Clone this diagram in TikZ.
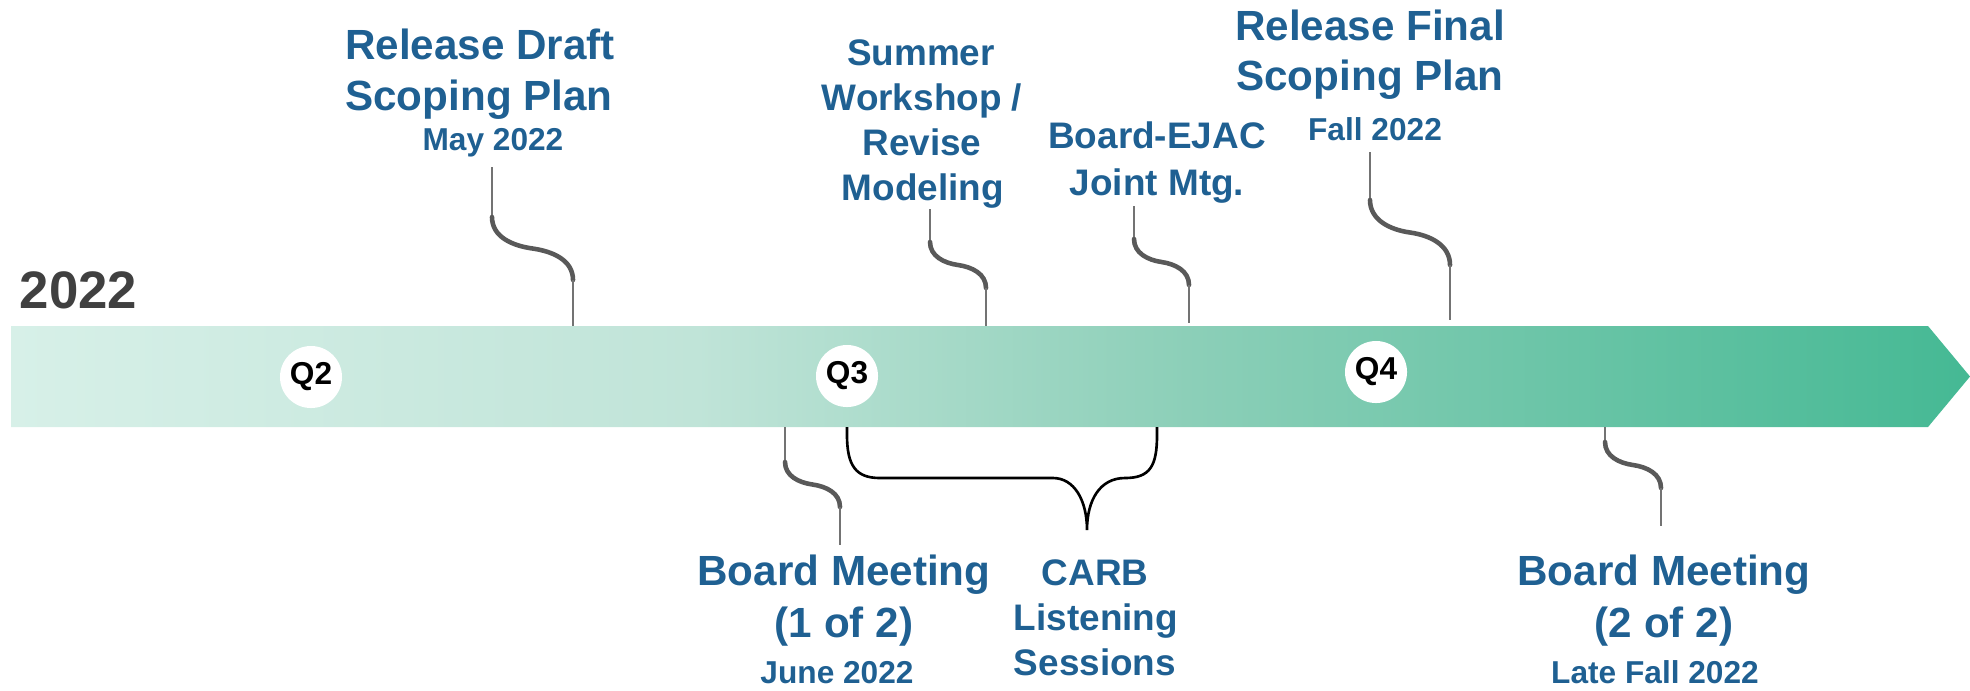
\documentclass[tikz,border=0pt]{standalone}
\usepackage{fontspec}
\setmainfont{Liberation Sans}
\usetikzlibrary{calc}
\definecolor{tblue}{RGB}{31,96,146}
\definecolor{ydark}{RGB}{64,64,64}
\definecolor{cthick}{RGB}{89,89,89}
\definecolor{cthin}{RGB}{115,115,115}
\pgfdeclarehorizontalshading{bandshade}{100bp}{rgb(0bp)=(0.843,0.941,0.910); rgb(25bp)=(0.843,0.941,0.910); rgb(42.5bp)=(0.753,0.894,0.847); rgb(55bp)=(0.549,0.812,0.722); rgb(75bp)=(0.271,0.725,0.580); rgb(100bp)=(0.271,0.725,0.580)}
\begin{document}
\begin{tikzpicture}[x=0.01cm,y=-0.01cm,
  tbig/.style={anchor=base, text=tblue, inner sep=0pt, font=\fontsize{12}{14}\selectfont\bfseries},
  tmid/.style={anchor=base, text=tblue, inner sep=0pt, font=\fontsize{10.5}{12}\selectfont\bfseries},
  tsmall/.style={anchor=base, text=tblue, inner sep=0pt, font=\fontsize{9}{11}\selectfont\bfseries},
  qc/.style={circle, fill=white, minimum size=0.62cm, inner sep=0pt, font=\fontsize{9}{10}\selectfont\bfseries},
  thinl/.style={draw=cthin, line width=0.45pt},
  thickl/.style={draw=cthick, line width=1.3pt, line cap=round},
  bracel/.style={draw=black, line width=0.75pt}]
\useasboundingbox (0,0) rectangle (1970,690);
% band
\shade[shading=bandshade] (11,326) -- (1928,326) -- (1970,376.5) -- (1928,427) -- (11,427) -- cycle;
% year
\node[anchor=base west, inner sep=0pt, text=ydark, font=\fontsize{15}{17}\selectfont\bfseries] (year) at (19,308) {2022};
% quarters
\node[qc] (q2) at (311,377) {Q2};
\node[qc] (q3) at (847,376) {Q3};
\node[qc] (q4) at (1376,372) {Q4};
% labels above
\node[tbig] (rd1) at (480,59) {Release Draft};
\node[tbig] (rd2) at (479,110) {Scoping Plan};
\node[tsmall] (rd3) at (493,150) {May 2022};
\node[tmid] (sw1) at (921,65) {Summer};
\node[tmid] (sw2) at (922,110) {Workshop /};
\node[tmid] (sw3) at (922,155) {Revise};
\node[tmid] (sw4) at (923,200) {Modeling};
\node[tmid] (be1) at (1157,148) {Board-EJAC};
\node[tmid] (be2) at (1157,195) {Joint Mtg.};
\node[tbig] (rf1) at (1370,40) {Release Final};
\node[tbig] (rf2) at (1370,90) {Scoping Plan};
\node[tsmall] (rf3) at (1375,140) {Fall 2022};
% labels below
\node[tbig] (bm1) at (844,585) {Board Meeting};
\node[tbig] (bm2) at (844,637) {(1 of 2)};
\node[tsmall] (bm3) at (837,683) {June 2022};
\node[tmid] (cl1) at (1095,585) {CARB};
\node[tmid] (cl2) at (1096,630) {Listening};
\node[tmid] (cl3) at (1095,675) {Sessions};
\node[tbig] (bn1) at (1664,585) {Board Meeting};
\node[tbig] (bn2) at (1664,637) {(2 of 2)};
\node[tsmall] (bn3) at (1655,683) {Late Fall 2022};
% connectors
\foreach \n/\xa/\ya/\yb/\xc/\yc/\yd in {
  1/492/167/217/573/280/326,
  2/930/209/242/986/288/326,
  3/1134/206/239/1189/285/323,
  4/1370/152/200/1450/265/320,
  5/785/427/462/840/507/545,
  6/1605/427/442/1661/488/526}{
  \coordinate (a\n) at (\xa,\ya);
  \coordinate (b\n) at (\xa,\yb);
  \coordinate (c\n) at (\xc,\yc);
  \coordinate (d\n) at (\xc,\yd);
  \draw[thinl] (a\n) -- (b\n);
  \draw[thickl] (b\n) to[out=-90,in=172] ($(b\n)!0.5!(c\n)$) to[out=-8,in=90] (c\n);
  \draw[thinl] (c\n) -- (d\n);
}
% brace
\coordinate (bl) at (847,427);
\coordinate (br) at (1157,427);
\coordinate (bt) at (1087,530);
\draw[bracel] (bl) -- (847,435) .. controls (847,466) and (856,478) .. (880,478) -- (1053,478)
  .. controls (1074,478) and (1087,500) .. (bt)
  .. controls (1087,500) and (1100,478) .. (1125,478)
  .. controls (1150,478) and (1157,466) .. (1157,435) -- (br);
\end{tikzpicture}
\end{document}
